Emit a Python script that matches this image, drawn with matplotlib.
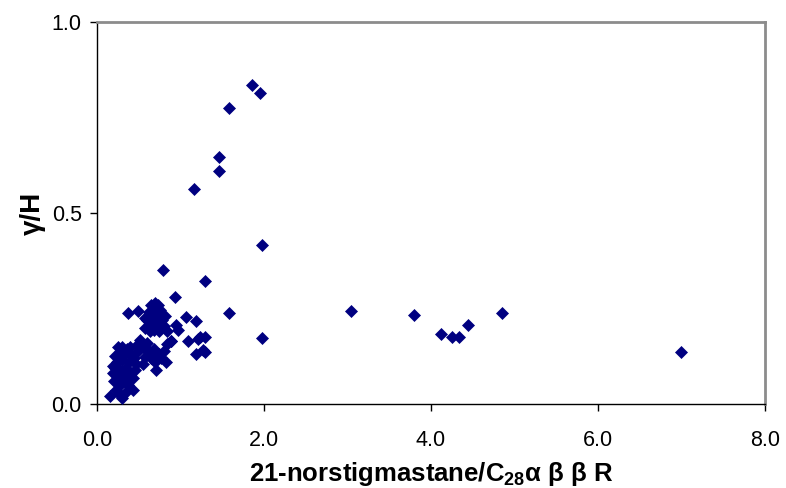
import matplotlib
matplotlib.use("Agg")
import matplotlib.pyplot as plt

plt.rcParams['font.family'] = ['Liberation Sans', 'DejaVu Sans']
plt.rcParams['mathtext.fontset'] = 'custom'
plt.rcParams['mathtext.rm'] = 'Liberation Sans'
plt.rcParams['mathtext.bf'] = 'Liberation Sans:bold'

# 21-norstigmastane / C28 abbR ratio
norstig = [
    # low cluster
    0.16, 0.23, 0.30, 0.27, 0.43, 0.37, 0.33, 0.20, 0.25, 0.32, 0.40, 0.43,
    0.19, 0.22, 0.28, 0.35, 0.45, 0.24, 0.30, 0.38, 0.21, 0.27, 0.33, 0.44,
    0.25, 0.30, 0.36, 0.48, 0.40, 0.35, 0.26, 0.47, 0.39, 0.19,
    # diagonal band
    0.51, 0.57, 0.55, 0.62, 0.60, 0.65, 0.68, 0.71, 0.70, 0.74, 0.77, 0.83,
    0.80, 0.84, 0.89, 0.55, 0.48,
    # upper group
    0.58, 0.60, 0.62, 0.65, 0.68, 0.70, 0.73, 0.75, 0.62, 0.66, 0.70, 0.72,
    0.78, 0.76, 0.68, 0.63, 0.80, 0.82, 0.74, 0.66, 0.57, 0.84, 0.37, 0.49,
    # scattered around 1.0-1.3
    0.95, 0.97, 1.07, 1.18, 1.09, 1.21, 1.29, 1.29, 1.18, 1.23, 1.27, 0.89,
    0.94, 0.79, 1.29,
    # high gamma/H samples
    1.86, 1.95, 1.58, 1.46, 1.46, 1.16, 1.98, 1.58, 1.98,
    # high norstigmastane samples
    3.04, 3.80, 4.12, 4.25, 4.34, 4.44, 4.85, 6.99,
]

# gammacerane / hopane ratio
gamma_h = [
    0.022, 0.037, 0.015, 0.050, 0.037, 0.050, 0.030, 0.060, 0.075, 0.070, 0.075, 0.067,
    0.080, 0.095, 0.090, 0.095, 0.090, 0.110, 0.115, 0.110, 0.125, 0.135, 0.130, 0.120,
    0.150, 0.148, 0.145, 0.135, 0.150, 0.060, 0.025, 0.105, 0.130, 0.100,
    0.168, 0.124, 0.150, 0.140, 0.160, 0.120, 0.145, 0.089, 0.110, 0.130, 0.120, 0.111,
    0.140, 0.157, 0.166, 0.105, 0.155,
    0.200, 0.220, 0.240, 0.260, 0.250, 0.265, 0.260, 0.245, 0.205, 0.215, 0.230, 0.210,
    0.220, 0.200, 0.195, 0.190, 0.205, 0.230, 0.190, 0.235, 0.225, 0.190, 0.239, 0.243,
    0.207, 0.194, 0.228, 0.217, 0.166, 0.170, 0.175, 0.137, 0.131, 0.176, 0.141, 0.166,
    0.281, 0.351, 0.323,
    0.835, 0.815, 0.774, 0.647, 0.610, 0.562, 0.416, 0.239, 0.172,
    0.243, 0.233, 0.183, 0.176, 0.176, 0.207, 0.238, 0.136,
]

x_ticks = [0, 2, 4, 6, 8]
x_ticklabels = ['0.0', '2.0', '4.0', '6.0', '8.0']
y_ticks = [0.0, 0.5, 1.0]
y_ticklabels = ['0.0', '0.5', '1.0']

fig = plt.figure(figsize=(7.86, 4.88), dpi=100)
ax = fig.add_axes([0.1234, 0.1721, 0.8499, 0.7828])

ax.plot(norstig, gamma_h, linestyle='none', marker='D', markersize=6,
        color='#000080', markeredgecolor='#000080', markeredgewidth=0.5,
        clip_on=False, zorder=3)

ax.set_xlim(0, 8)
ax.set_ylim(0, 1)
ax.set_xticks(x_ticks)
ax.set_xticklabels(x_ticklabels)
ax.set_yticks(y_ticks)
ax.set_yticklabels(y_ticklabels)

ax.tick_params(axis='both', direction='out', length=5, width=1, color='black',
               labelsize=15.5, labelcolor='black')
ax.tick_params(axis='x', pad=14)
ax.tick_params(axis='y', pad=6)

for side in ('left', 'bottom'):
    ax.spines[side].set_color('black')
    ax.spines[side].set_linewidth(1.0)
for side in ('top', 'right'):
    ax.spines[side].set_color('#8c8c8c')
    ax.spines[side].set_linewidth(2.0)

ax.set_xlabel(r'21-norstigmastane/C$_\mathbf{28}$α β β R', fontsize=18.5,
              fontweight='bold', labelpad=6)
ax.set_ylabel('γ/H', fontsize=20, fontweight='bold', labelpad=4)

fig.savefig('out.png', dpi=100, facecolor='white')
